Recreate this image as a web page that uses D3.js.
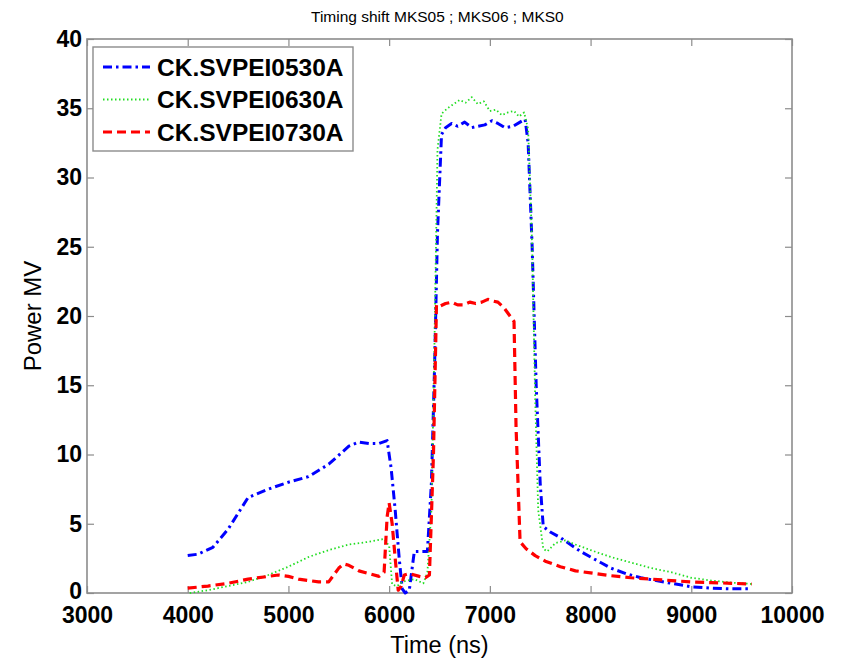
<!DOCTYPE html>
<html>
<head>
<meta charset="utf-8">
<script src="https://cdn.jsdelivr.net/npm/d3@7"></script>
<style>
  body { margin: 0; background: #fff; }
  text { font-family: "Liberation Sans", Arial, Helvetica, sans-serif; }
</style>
</head>
<body>
<div class="d3Chart"></div>
<script>
// data
var xTicks = [3000, 4000, 5000, 6000, 7000, 8000, 9000, 10000];
var yTicks = [0, 5, 10, 15, 20, 25, 30, 35, 40];
var seriesNames = ["CK.SVPEI0530A", "CK.SVPEI0630A", "CK.SVPEI0730A"];

var time0530 = [4000, 4100, 4250, 4400, 4600, 4800, 5000, 5200, 5400, 5600, 5700, 5800, 5900, 5980, 6020, 6060, 6100, 6130, 6160, 6200, 6250, 6380, 6420, 6450, 6480, 6520, 6560, 6620, 6680, 6750, 6820, 6880, 6950, 7020, 7080, 7150, 7230, 7300, 7350, 7380, 7420, 7460, 7500, 7530, 7600, 7700, 7800, 7900, 8000, 8100, 8200, 8350, 8500, 8650, 8800, 9000, 9200, 9400, 9600];
var power0530 = [2.7, 2.8, 3.3, 4.6, 6.9, 7.5, 8.0, 8.4, 9.3, 10.6, 10.9, 10.8, 10.8, 11.0, 9.0, 6.0, 2.5, 0.3, 0, 0.2, 3.0, 3.0, 8, 16, 26, 33.1, 33.6, 33.9, 33.7, 34.0, 33.6, 33.7, 33.8, 34.1, 33.9, 33.6, 33.7, 34.0, 34.2, 32.5, 25, 15, 7.9, 4.8, 4.4, 4.0, 3.5, 3.0, 2.6, 2.2, 1.8, 1.4, 1.1, 0.9, 0.7, 0.45, 0.35, 0.3, 0.3];

var time0630 = [4020, 4200, 4400, 4600, 4800, 5000, 5200, 5400, 5600, 5800, 5950, 6000, 6030, 6080, 6130, 6180, 6250, 6340, 6380, 6420, 6450, 6480, 6520, 6580, 6640, 6700, 6760, 6820, 6880, 6940, 7000, 7060, 7120, 7180, 7240, 7290, 7340, 7380, 7420, 7450, 7480, 7530, 7570, 7650, 7750, 7850, 8000, 8200, 8400, 8600, 8800, 9000, 9200, 9400, 9600];
var power0630 = [0, 0.2, 0.5, 0.8, 1.3, 1.9, 2.6, 3.1, 3.5, 3.7, 3.9, 3.4, 0.6, 0.5, 0.8, 0.9, 1.0, 0.7, 1.5, 6, 18, 32, 34.6, 35.0, 35.3, 35.6, 35.4, 35.8, 35.3, 35.5, 34.8, 34.9, 34.5, 34.7, 34.8, 34.4, 34.7, 33.5, 25, 14, 6, 3.2, 3.0, 3.6, 3.8, 3.5, 3.1, 2.6, 2.2, 1.8, 1.5, 1.1, 0.9, 0.75, 0.65];

var time0730 = [4000, 4200, 4400, 4600, 4800, 4900, 5000, 5100, 5200, 5300, 5400, 5500, 5550, 5600, 5700, 5800, 5900, 5950, 5980, 6000, 6030, 6060, 6090, 6120, 6150, 6200, 6300, 6360, 6400, 6440, 6470, 6500, 6560, 6620, 6680, 6740, 6800, 6860, 6920, 6980, 7020, 7080, 7140, 7200, 7240, 7260, 7300, 7360, 7450, 7550, 7700, 7850, 8000, 8200, 8400, 8600, 8800, 9000, 9200, 9400, 9600];
var power0730 = [0.35, 0.5, 0.7, 1.0, 1.2, 1.3, 1.2, 1.0, 0.9, 0.8, 0.8, 1.8, 2.1, 2.0, 1.6, 1.4, 1.2, 1.5, 5.5, 6.5, 5.0, 2.5, 0.2, 0.5, 1.3, 1.4, 1.2, 1.1, 1.3, 10, 20.8, 20.7, 20.9, 21.0, 20.8, 20.8, 21.0, 20.9, 21.0, 21.2, 21.1, 21.0, 20.6, 20.0, 19.6, 12, 3.7, 3.2, 2.7, 2.3, 1.9, 1.6, 1.45, 1.25, 1.1, 1.0, 0.9, 0.8, 0.75, 0.7, 0.65];

// 畫布
var width = 843;
var height = 660;
var margin = { top: 39, right: 51, bottom: 67, left: 87 };
var innerW = width - margin.left - margin.right;
var innerH = height - margin.top - margin.bottom;

var svg = d3
  .select(".d3Chart")
  .append("svg")
  .attr("width", width)
  .attr("height", height)
  .style("background-color", "#fff");

var chart = svg
  .append("g")
  .attr("transform", `translate(${margin.left}, ${margin.top})`);

var x = d3.scaleLinear().domain([3000, 10000]).range([0, innerW]);
var y = d3.scaleLinear().domain([0, 40]).range([innerH, 0]);

var frameColor = "#8c8c8c";

// 刻度 (ticks point inward, on all four sides)
function styleAxis(g) {
  g.select(".domain").remove();
  g.selectAll(".tick line").attr("stroke", frameColor).attr("stroke-width", 1.2);
  g.selectAll(".tick text")
    .attr("fill", "#000")
    .style("font-size", "23px")
    .style("font-weight", "bold")
    .style("font-family", "'Liberation Sans', Arial, sans-serif");
}

chart
  .append("g")
  .attr("transform", `translate(0, ${innerH})`)
  .call(d3.axisBottom(x).tickValues(xTicks).tickSize(-7).tickPadding(14).tickFormat(d3.format("d")))
  .call(styleAxis);

chart
  .append("g")
  .call(d3.axisTop(x).tickValues(xTicks).tickSize(-7).tickFormat(""))
  .call(styleAxis);

chart
  .append("g")
  .call(d3.axisLeft(y).tickValues(yTicks).tickSize(-7).tickPadding(5).tickFormat(d3.format("d")))
  .call(styleAxis);

chart
  .append("g")
  .attr("transform", `translate(${innerW}, 0)`)
  .call(d3.axisRight(y).tickValues(yTicks).tickSize(-7).tickFormat(""))
  .call(styleAxis);

// the "0" sits just above "3000" in the original; lift it a touch
chart.selectAll("g.tick text").filter((d) => d === 0).attr("dy", "0.25em");

// 邊框
chart
  .append("rect")
  .attr("x", 0)
  .attr("y", 0)
  .attr("width", innerW)
  .attr("height", innerH)
  .attr("fill", "none")
  .attr("stroke", frameColor)
  .attr("stroke-width", 1.6);

// 線
var series = [
  { name: seriesNames[0], t: time0530, v: power0530, color: "#0000ff", width: 3, dash: "9,4,2.5,4" },
  { name: seriesNames[1], t: time0630, v: power0630, color: "#22dd22", width: 1.8, dash: "1.5,2.5" },
  { name: seriesNames[2], t: time0730, v: power0730, color: "#ff0000", width: 3.2, dash: "9,5" },
];

var line = d3
  .line()
  .x((d) => x(d[0]))
  .y((d) => y(d[1]));

chart
  .selectAll(".series")
  .data(series)
  .enter()
  .append("path")
  .attr("class", "series")
  .attr("fill", "none")
  .attr("stroke", (d) => d.color)
  .attr("stroke-width", (d) => d.width)
  .attr("stroke-dasharray", (d) => d.dash)
  .attr("stroke-linejoin", "round")
  .attr("d", (d) => line(d.t.map((t, i) => [t, d.v[i]])));

// 圖例
var legend = svg.append("g").attr("transform", "translate(93, 47)");
legend
  .append("rect")
  .attr("width", 260)
  .attr("height", 104)
  .attr("fill", "#fff")
  .attr("stroke", frameColor)
  .attr("stroke-width", 1.4);

var items = legend
  .selectAll(".item")
  .data(series)
  .enter()
  .append("g")
  .attr("class", "item")
  .attr("transform", (d, i) => `translate(0, ${20 + i * 32.5})`);

items
  .append("line")
  .attr("x1", 10)
  .attr("x2", 57)
  .attr("stroke", (d) => d.color)
  .attr("stroke-width", (d) => d.width)
  .attr("stroke-dasharray", (d) => d.dash);

items
  .append("text")
  .attr("x", 64)
  .attr("dy", "0.36em")
  .style("font-size", "24.5px")
  .style("font-weight", "bold")
  .text((d) => d.name);

// 標題 (cut off on the right like the original)
svg
  .append("clipPath")
  .attr("id", "titleClip")
  .append("rect")
  .attr("x", 0)
  .attr("y", 0)
  .attr("width", 564)
  .attr("height", 35);

svg
  .append("text")
  .attr("clip-path", "url(#titleClip)")
  .attr("x", 311)
  .attr("y", 22)
  .style("font-size", "15.5px")
  .text("Timing shift MKS05 ; MKS06 ; MKS07");

// 軸標題
svg
  .append("text")
  .attr("x", margin.left + innerW / 2)
  .attr("y", 653)
  .attr("text-anchor", "middle")
  .style("font-size", "23.5px")
  .text("Time (ns)");

svg
  .append("text")
  .attr("transform", `translate(41, ${margin.top + innerH / 2}) rotate(-90)`)
  .attr("text-anchor", "middle")
  .style("font-size", "24px")
  .text("Power MV");
</script>
</body>
</html>
